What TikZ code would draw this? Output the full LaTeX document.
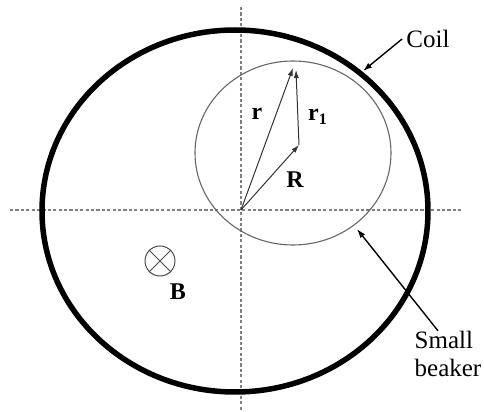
\documentclass[tikz,border=0pt]{standalone}
\usepackage{fontspec}
\setmainfont{Liberation Serif}
\usepackage{tikz}
\usetikzlibrary{arrows.meta}

\begin{document}
\begin{tikzpicture}[x=0.5pt,y=-0.5pt,
  axisline/.style={gray,line width=0.6pt,dash pattern=on 1.6pt off 1.1pt},
  vec/.style={black!80,line width=0.5pt,-{Latex[length=4pt,width=2.6pt]}},
  pointer/.style={black,line width=0.7pt,-{Latex[length=4.5pt,width=3pt]}},
  lbl/.style={font=\fontsize{12}{14}\selectfont\bfseries,inner sep=1pt},
  txt/.style={font=\fontsize{12.5}{14}\selectfont,inner sep=2pt}]
  \useasboundingbox (0,0) rectangle (484,412);
  % axes
  \coordinate (O) at (241,210);
  \coordinate (xl) at (10,210);
  \coordinate (xr) at (463,210);
  \coordinate (yt) at (241,7);
  \coordinate (yb) at (241,412);
  \draw[axisline] (xl) -- (xr);
  \draw[axisline] (yt) -- (yb);
  % coil and beaker
  \draw[line width=2.75pt] (235,211) ellipse [x radius=193,y radius=181];
  \draw[black!60,line width=0.55pt] (293,153) ellipse [x radius=98,y radius=92];
  % vectors
  \coordinate (Rt) at (299,145);
  \coordinate (rt) at (293,68);
  \coordinate (r1t) at (296,70);
  \draw[vec] (O) -- (Rt);
  \draw[vec] (O) -- (rt);
  \draw[vec] (Rt) -- (r1t);
  \node[lbl] (lr) at (257,114) {r};
  \node[lbl] (lr1) at (318,117) {r\textsubscript{1}};
  \node[lbl] (lR) at (295,180) {R};
  % field into page
  \node[draw=black!70,circle,minimum size=15pt,inner sep=0,line width=0.5pt] (Bsym) at (160,261) {};
  \draw[black!70,line width=0.5pt] (Bsym.north west) -- (Bsym.south east);
  \draw[black!70,line width=0.5pt] (Bsym.north east) -- (Bsym.south west);
  \node[lbl] (lB) at (178,292) {B};
  % callouts
  \node[txt] (coil) at (428,39) {Coil};
  \coordinate (coilpt) at (363,71);
  \draw[pointer] (coil.west) -- (coilpt);
  \node[txt,align=left,inner sep=0pt] (beaker) at (448,354) {Small\\beaker};
  \coordinate (bkpt) at (357,229);
  \draw[pointer] ([xshift=-5pt]beaker.north) -- (bkpt);
\end{tikzpicture}
\end{document}
